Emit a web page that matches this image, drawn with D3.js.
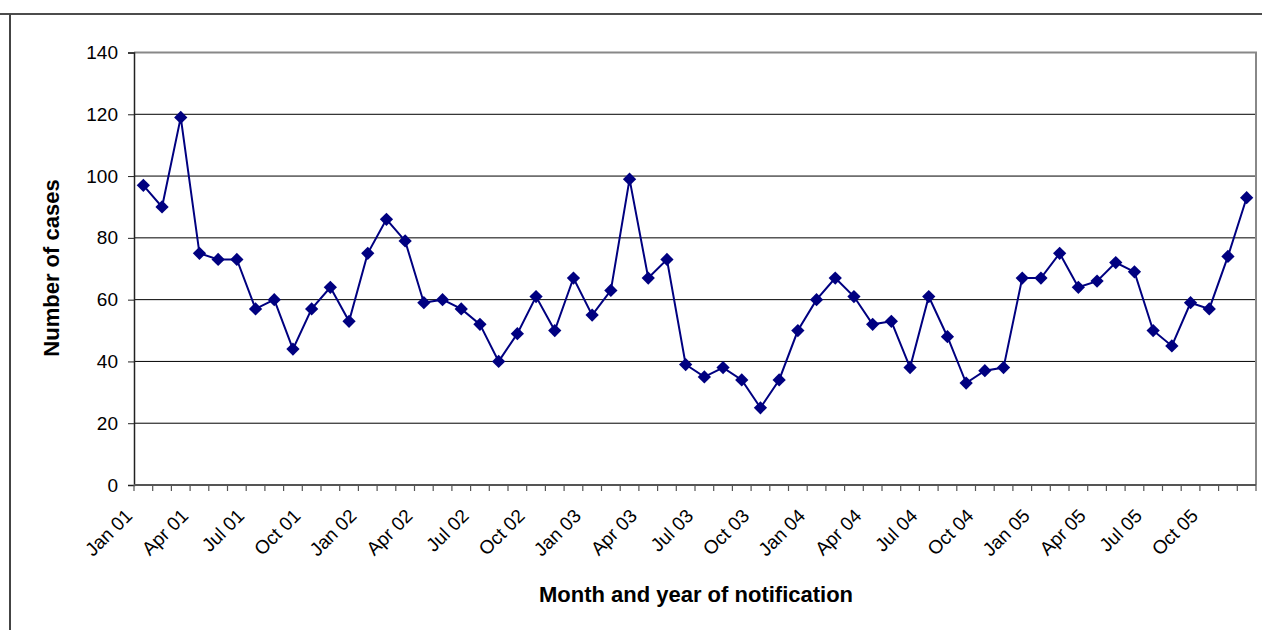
<!DOCTYPE html>
<html>
<head>
<meta charset="utf-8">
<script src="https://cdn.jsdelivr.net/npm/d3@7"></script>
<style>
  body { margin: 0; background: #fff; overflow: hidden; }
  svg { display: block; font-family: "Liberation Sans", Arial, sans-serif; }
</style>
</head>
<body>
<svg id="chart"></svg>
<script>
// months Jan 01 .. Dec 05
const monthNames = ["Jan", "Feb", "Mar", "Apr", "May", "Jun", "Jul", "Aug", "Sep", "Oct", "Nov", "Dec"];
const years = ["01", "02", "03", "04", "05"];
const months = years.flatMap((y) => monthNames.map((m) => `${m} ${y}`));
const cases = [
  97, 90, 119, 75, 73, 73, 57, 60, 44, 57, 64, 53,
  75, 86, 79, 59, 60, 57, 52, 40, 49, 61, 50, 67,
  55, 63, 99, 67, 73, 39, 35, 38, 34, 25, 34, 50,
  60, 67, 61, 52, 53, 38, 61, 48, 33, 37, 38, 67,
  67, 75, 64, 66, 72, 69, 50, 45, 59, 57, 74, 93,
];
const yTicks = [0, 20, 40, 60, 80, 100, 120, 140];
const shownLabels = months.filter((_, i) => i % 3 === 0);

const width = 1262, height = 630;
const margin = { left: 134, right: 6, top: 52.5, bottom: 145 };
const innerWidth = width - margin.left - margin.right;
const innerHeight = height - margin.top - margin.bottom;

const svg = d3.select("#chart").attr("width", width).attr("height", height);

// outer frame
svg.append("line").attr("x1", 0).attr("x2", width).attr("y1", 14).attr("y2", 14)
  .attr("stroke", "#111").attr("stroke-width", 1.5);
svg.append("line").attr("x1", 10).attr("x2", 10).attr("y1", 14).attr("y2", height)
  .attr("stroke", "#444").attr("stroke-width", 2);

const plot = svg.append("g").attr("transform", `translate(${margin.left},${margin.top})`);

const x = d3.scaleBand().domain(months).range([0, innerWidth]);
const y = d3.scaleLinear().domain([0, 140]).range([innerHeight, 0]);

// gridlines
plot.append("g")
  .selectAll("line")
  .data(yTicks.filter((d) => d > 0 && d < 140))
  .join("line")
  .attr("x1", 0).attr("x2", innerWidth)
  .attr("y1", (d) => y(d)).attr("y2", (d) => y(d))
  .attr("stroke", "#000").attr("stroke-width", 1);

// plot area border (top / right)
plot.append("path")
  .attr("d", `M0,${y(140)}H${innerWidth}V${innerHeight}`)
  .attr("fill", "none").attr("stroke", "#888").attr("stroke-width", 2);

// y axis
const yAxis = plot.append("g")
  .call(d3.axisLeft(y).tickValues(yTicks).tickSize(6).tickPadding(10));
yAxis.attr("font-size", 19).attr("font-family", "Liberation Sans, Arial, sans-serif");
yAxis.select(".domain").attr("stroke", "#222").attr("stroke-width", 1.5);
yAxis.selectAll(".tick line").attr("stroke", "#222");
yAxis.selectAll("text").attr("fill", "#000");

// x axis: ticks at category boundaries
const xAxis = plot.append("g").attr("transform", `translate(0,${innerHeight})`);
xAxis.append("g")
  .selectAll("line")
  .data(d3.range(months.length + 1))
  .join("line")
  .attr("x1", (i) => i * x.step()).attr("x2", (i) => i * x.step())
  .attr("y1", 0).attr("y2", 6)
  .attr("stroke", "#555").attr("stroke-width", 1.2);
xAxis.append("line").attr("x1", 0).attr("x2", innerWidth)
  .attr("stroke", "#555").attr("stroke-width", 2);
xAxis.append("g")
  .selectAll("text")
  .data(shownLabels)
  .join("text")
  .attr("transform", (d) => `translate(${x(d) + x.bandwidth() / 2 - 10},32) rotate(-45)`)
  .attr("text-anchor", "end")
  .attr("font-size", 19)
  .attr("fill", "#000")
  .text((d) => d);

// series line
const line = d3.line()
  .x((d, i) => x(months[i]) + x.bandwidth() / 2)
  .y((d) => y(d));
plot.append("path")
  .datum(cases)
  .attr("d", line)
  .attr("fill", "none")
  .attr("stroke", "#000080")
  .attr("stroke-width", 2);

// diamond markers
plot.append("g")
  .selectAll("path")
  .data(cases)
  .join("path")
  .attr("d", d3.symbol(d3.symbolSquare, 88))
  .attr("transform", (d, i) => `translate(${x(months[i]) + x.bandwidth() / 2},${y(d)}) rotate(45)`)
  .attr("fill", "#000080");

// axis titles
svg.append("text")
  .attr("transform", `translate(59,268) rotate(-90)`)
  .attr("text-anchor", "middle")
  .attr("font-size", 22)
  .attr("font-weight", "bold")
  .text("Number of cases");
svg.append("text")
  .attr("x", 696).attr("y", 602)
  .attr("text-anchor", "middle")
  .attr("font-size", 22)
  .attr("font-weight", "bold")
  .text("Month and year of notification");
</script>
</body>
</html>
